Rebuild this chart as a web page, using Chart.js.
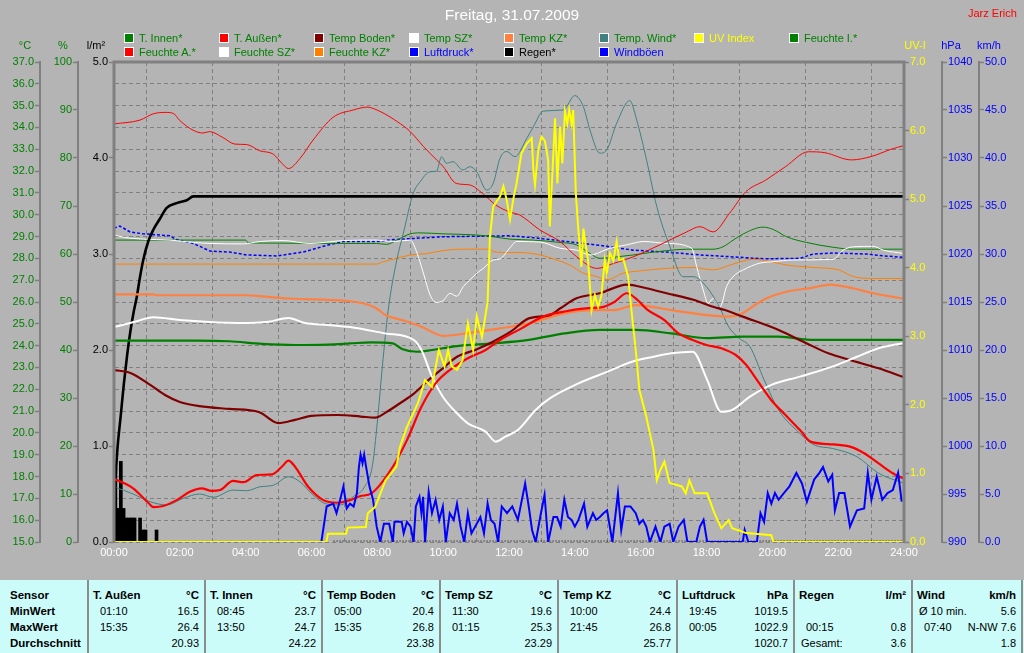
<!DOCTYPE html>
<html lang="de">
<head>
<meta charset="utf-8">
<title>Freitag, 31.07.2009</title>
<script src="https://cdn.jsdelivr.net/npm/chart.js@4.4.1/dist/chart.umd.min.js"></script>
<style>
html,body{margin:0;padding:0;}
body{width:1024px;height:653px;background:#b4b4b4;position:relative;overflow:hidden;font-family:"Liberation Sans",Arial,sans-serif;}
#chartBox{position:absolute;left:0;top:0;width:1024px;height:580px;}
.txt{position:absolute;white-space:nowrap;line-height:1;}
#title{left:0;width:1024px;top:7px;text-align:center;color:#fff;font-size:15.5px;}
#author{left:968px;top:8px;color:#f00;font-size:11px;}
.unit{top:40px;font-size:11px;transform:translateX(-50%);}
.lg{position:absolute;font-size:11px;line-height:12px;white-space:nowrap;}
.lg i{position:absolute;left:0;top:0;width:8px;height:8px;border:1px solid #fff;}
.lg span{position:absolute;left:15px;top:-1px;}
#table{position:absolute;left:0;top:580px;width:1024px;height:73px;background:#ccfcfa;}
.sep{position:absolute;top:0;width:2px;height:73px;background:#8c8c8c;}
.cell{position:absolute;height:16px;line-height:16px;font-size:11px;color:#000;white-space:nowrap;}
.b{font-weight:bold;font-size:11.5px;}
</style>
</head>
<body>
<div id="chartBox"><canvas id="c" width="1024" height="580"></canvas></div>
<div id="title" class="txt">Freitag, 31.07.2009</div>
<div id="author" class="txt">Jarz Erich</div>
<div class="txt unit" style="left:25px;color:#008000">°C</div>
<div class="txt unit" style="left:63px;color:#008000">%</div>
<div class="txt unit" style="left:96px;color:#000">l/m²</div>
<div class="txt unit" style="left:915px;color:#ffff00">UV-I</div>
<div class="txt unit" style="left:951px;color:#0000ff">hPa</div>
<div class="txt unit" style="left:989px;color:#0000ff">km/h</div>
<div id="legend"></div>
<div id="table"></div>
<script>
// ---------- data (time in hours) ----------
const xTickHours = [0,2,4,6,8,10,12,14,16,18,20,22,24];

const tAussenT = [0,0.58,1.04,1.2,1.5,1.9,2.3,2.66,2.97,3.22,3.62,3.93,4.34,4.8,5.1,5.3,5.5,5.9,6.36,6.77,7.17,7.47,7.82,8.47,8.9,9.34,9.77,10.2,10.75,11.29,11.73,12.38,13.03,13.68,14.4,14.8,15.2,15.58,15.9,16.2,16.72,17.15,17.58,18.0,18.45,18.89,19.21,19.53,19.97,20.4,20.84,21.16,21.7,22.36,22.79,23.23,23.66,24];
const tAussen  = [17.9,17.46,16.8,16.6,16.65,16.92,17.3,17.46,17.34,17.38,17.8,17.74,18.07,18.1,18.45,18.73,18.45,17.53,16.92,16.8,16.92,17.1,17.23,18.45,19.67,21.2,22.27,22.88,23.42,23.8,24.26,24.79,25.33,25.56,25.72,25.75,26.0,26.4,26.1,25.65,25.17,24.56,24.26,24.03,23.88,23.57,23.11,22.43,21.5,20.82,20.13,19.6,19.49,19.37,19.07,18.6,18.15,17.9];

const tBodenT = [0,0.5,1.1,1.55,2.0,2.6,3.5,4.4,5.0,5.5,6.0,6.8,7.5,7.93,8.25,8.69,9.11,9.56,9.99,10.42,10.97,11.51,12.05,12.6,13.24,13.55,14.05,14.76,15.58,16.18,16.79,17.6,18.2,18.56,19.1,20.19,21.05,21.7,22.36,23.23,24];
const tBoden  = [22.88,22.75,22.2,21.74,21.42,21.23,21.1,20.96,20.45,20.6,20.78,20.82,20.75,20.7,20.93,21.36,21.8,22.43,22.96,23.49,23.8,24.18,24.64,25.25,25.4,25.7,26.17,26.4,26.8,26.63,26.4,26.1,25.78,25.63,25.33,24.72,24.1,23.65,23.34,22.96,22.55];

const tSZT = [0,0.6,1.2,2.0,2.9,3.8,4.7,5.3,5.8,6.5,7.17,8.25,9.11,9.34,9.66,9.99,10.42,10.75,11.29,11.6,11.89,12.27,12.81,13.24,14.11,14.98,15.74,16.39,16.93,17.58,18.02,18.45,18.78,19.32,19.97,20.84,21.82,22.57,23.23,24];
const tSZ  = [24.85,25.08,25.3,25.17,25.08,25.04,25.1,25.27,25.04,24.95,24.85,24.56,24.26,23.8,22.58,21.66,20.9,20.44,20.06,19.6,19.83,20.13,21.05,21.58,22.27,22.8,23.26,23.49,23.65,23.72,22.43,20.97,21.05,21.66,22.2,22.58,23.04,23.49,23.88,24.12];

const tKZT = [0,1.19,1.3,4.03,4.43,4.94,5.45,6.16,6.97,7.57,7.98,8.25,8.8,9.34,10.0,10.86,11.73,12.6,13.68,14.55,15.2,15.85,16.93,18.02,18.67,19.1,19.32,19.83,20.43,21.24,21.75,22.45,23.07,24];
const tKZ  = [26.35,26.35,26.31,26.31,26.27,26.2,26.15,26.12,26.06,25.94,25.7,25.4,25.15,24.87,24.45,24.6,24.79,25.02,25.48,25.63,25.63,25.86,25.63,25.4,25.33,25.48,25.71,26.17,26.47,26.66,26.8,26.63,26.4,26.15];

const tInnenT = [0,2.5,3.5,4.5,5.5,6.5,7.17,7.8,8.47,8.75,9.2,9.66,10.42,11.51,12.6,13.68,14.76,15.85,16.93,18.02,19.1,20.19,21.27,22.36,24];
const tInnen  = [24.23,24.23,24.2,24.08,24.03,24.05,24.1,24.15,24.1,23.85,23.72,23.8,23.98,24.1,24.26,24.56,24.72,24.72,24.56,24.34,24.41,24.41,24.26,24.26,24.26];

const tWindT = [0,0.58,1.09,1.6,2.1,2.6,3.02,3.62,4.03,4.43,4.84,5.3,5.65,6.05,6.46,6.87,7.27,7.6,7.85,8.0,8.15,8.33,8.59,8.79,9.09,9.3,9.6,9.8,9.95,10.1,10.3,10.6,10.81,11.02,11.32,11.52,11.73,11.93,12.18,12.54,12.74,13.04,13.65,14.0,14.26,14.46,14.76,14.97,15.27,15.67,15.88,16.18,16.49,16.89,17.29,17.6,18.0,18.41,18.67,18.99,19.32,19.75,20.19,20.73,21.27,21.82,22.57,23.23,24];
const tWind  = [17.53,17.2,16.85,16.7,17.0,17.2,17.05,17.38,17.35,17.53,17.6,17.99,17.76,17.15,16.74,16.7,17.08,17.5,18.5,20.5,23.0,25.63,27.92,29.15,30.98,31.51,31.97,32.0,32.66,32.36,32.43,32.05,32.2,31.97,31.13,31.44,32.6,32.9,32.66,33.5,34.03,34.75,34.8,35.46,34.95,33.88,32.82,32.97,34.19,35.23,34.34,32.5,30.37,28.53,27.16,27.16,26.7,25.71,24.87,24.34,23.95,22.43,21.05,20.13,19.45,19.29,18.91,18.15,17.69];

const uvT = [0,6.45,6.5,7.05,7.1,7.65,7.71,7.93,8.25,8.58,8.69,8.9,9.23,9.45,9.66,9.87,10.04,10.15,10.26,10.42,10.59,10.75,10.91,11.02,11.18,11.35,11.42,11.52,11.73,11.83,11.93,12.03,12.13,12.23,12.38,12.54,12.69,12.74,12.79,12.89,12.99,13.09,13.19,13.24,13.33,13.4,13.47,13.55,13.62,13.7,13.77,13.83,13.9,13.95,14.03,14.1,14.2,14.26,14.34,14.4,14.46,14.51,14.61,14.71,14.81,14.91,14.97,15.07,15.17,15.27,15.35,15.47,15.62,15.72,15.85,15.96,16.17,16.39,16.49,16.6,16.72,16.88,17.25,17.37,17.48,17.64,18.02,18.24,18.45,18.67,18.78,19.21,19.97,20.03,24];
const uvIndex = [0,0,0.12,0.12,0.21,0.22,0.42,0.51,0.9,1.1,1.39,1.68,2.02,2.36,2.26,2.8,2.56,2.8,2.56,2.51,2.65,3.19,2.8,3.29,2.99,3.5,4.45,4.89,5.04,5.19,4.99,4.7,5.0,5.23,5.67,5.81,5.89,5.43,5.21,5.72,5.91,5.85,5.57,4.6,5.5,6.18,5.23,6.06,5.52,6.28,6.1,6.3,6.1,6.3,5.09,4.6,4.01,4.57,4.3,4.11,3.72,3.38,3.6,3.43,3.6,4.11,3.92,4.21,4.1,4.38,4.11,4.13,3.87,3.38,2.8,2.22,1.83,1.34,0.9,1.05,1.17,0.86,0.81,0.71,0.9,0.71,0.71,0.42,0.2,0.32,0.2,0.13,0.1,0,0];

const gustT = [
 6.3,6.46,6.66,6.76,6.87,6.97,7.07,7.17,7.28,7.38,
 7.44,7.49,7.55,7.6,7.66,7.76,7.87,7.98,8.09,8.2,
 8.36,8.47,8.52,8.74,8.8,8.9,9.01,9.1,9.17,9.28,
 9.34,9.39,9.45,9.56,9.66,9.77,9.88,9.99,10.08,10.2,
 10.32,10.42,10.53,10.64,10.75,10.86,11.02,11.13,11.24,11.35,
 11.45,11.56,11.67,11.78,11.94,12.1,12.27,12.49,12.6,12.7,
 12.81,12.97,13.08,13.19,13.35,13.46,13.57,13.68,13.79,13.9,
 14.0,14.11,14.28,14.38,14.55,14.65,14.76,14.87,14.98,15.14,
 15.31,15.41,15.52,15.69,15.85,15.96,16.07,16.17,16.28,16.45,
 16.6,16.72,16.88,16.99,17.15,17.31,17.42,17.69,17.8,17.91,
 18.02,19.1,19.16,19.27,19.53,19.64,19.75,19.86,19.97,20.08,
 20.19,20.35,20.52,20.73,20.9,21.05,21.27,21.43,21.54,21.7,
 21.82,21.9,22.03,22.19,22.36,22.57,22.79,22.9,23.01,23.17,
 23.34,23.5,23.66,23.82,23.93];
const windGust = [
 0,3.7,4.0,3.0,4.4,5.8,3.5,4.0,3.7,5.1,
 7.8,9.1,8.2,9.1,7.8,5.8,4.4,1.6,0,1.9,
 1.9,0,2.1,2.1,0.9,2.1,1.6,0,3.7,4.7,
 3.0,4.7,0,5.2,3.0,4.4,2.3,3.7,0,3.0,
 2.3,4.0,1.6,0,3.0,0.9,1.9,2.6,0.9,4.0,
 2.3,1.9,0,3.7,3.0,3.7,2.3,6.1,3.7,1.25,
 0,3.0,4.9,0,2.6,2.6,1.6,4.4,2.6,2.3,
 1.6,2.3,4.0,1.6,3.0,2.3,2.6,3.0,3.3,0,
 5.1,1.25,3.7,3.7,3.0,1.9,2.3,1.6,0,1.6,
 0,1.6,1.9,0,1.6,2.3,0,0,1.6,2.3,
 0,0,1.25,0,0,3.0,2.1,5.1,4.0,5.1,
 4.4,5.1,5.8,7.2,6.1,4.2,6.5,7.2,7.8,6.3,
 7.0,3.3,5.1,5.1,1.6,3.3,3.5,7.2,4.4,6.8,
 4.4,5.1,5.4,7.2,4.2];

const windMeanT = [6.67,24];
const windMean  = [0.1,0.1];

const feuchteAT = [0,0.79,1.19,1.55,1.8,2.0,2.4,2.7,2.9,3.3,3.67,4.03,4.43,4.84,5.1,5.3,5.65,6.05,6.66,7.27,7.68,7.99,8.6,9.0,9.4,9.8,10.0,10.4,10.8,11.2,11.6,12.0,12.33,12.94,13.55,14.06,14.67,15.16,15.77,16.58,17.4,17.8,18.2,18.7,19.2,19.8,20.4,21.1,21.6,22.4,23.0,23.6,24];
const feuchteA  = [87.1,87.9,89.2,89.5,89.3,87.8,85.8,85.2,85.5,84.3,82.9,82.8,81.5,80.8,78.9,77.8,79.9,83.75,88.5,90.0,90.6,90.0,87.6,85.5,82.4,79.6,78.2,74.7,74.4,72.6,70.2,68.8,68.1,65.0,62.6,59.4,57.0,58.0,59.4,61.9,64.6,65.7,64.6,68.5,73.0,75.4,78.2,81.3,81.1,79.6,80.3,81.8,82.6];

const feuchteIT = [0,4.0,4.08,7.98,8.28,8.59,9.0,9.3,10.0,11.02,11.52,12.03,12.74,13.55,14.05,14.46,14.76,15.27,15.77,16.28,16.79,17.4,18.2,18.5,18.81,19.12,19.72,20.03,20.43,21.04,21.85,22.46,24];
const feuchteI  = [62.9,62.9,62.3,62.2,62.0,62.9,64.2,64.4,64.2,63.96,63.6,63.1,62.9,62.4,61.9,60.1,59.1,59.4,59.8,60.3,60.7,61.0,61.0,61.5,62.9,64.2,65.6,65.1,63.6,62.4,61.4,61.0,61.0];

const feuchteSZT = [0,0.28,0.89,1.7,2.41,2.92,3.93,4.43,5.14,5.95,6.97,7.98,8.49,9.0,9.19,9.4,9.6,9.8,10.0,10.21,10.41,10.61,10.81,11.02,11.22,11.52,11.73,12.03,12.23,12.94,13.55,14.05,14.46,15.07,15.57,16.1,16.79,17.55,17.7,17.9,18.05,18.21,18.41,18.61,18.81,19.12,19.62,20.03,20.64,21.85,22.15,22.46,23.07,23.37,24];
const feuchteSZ  = [64.0,63.5,63.1,62.9,62.4,62.2,62.1,62.6,62.8,62.2,62.8,62.9,62.6,62.9,60.5,56.0,51.5,49.9,50.3,51.8,51.2,53.2,54.6,56.0,57.0,58.75,59.0,61.3,62.6,62.5,61.2,60.8,59.8,61.2,61.9,62.6,62.2,61.2,57.4,52.5,49.7,50.8,49.0,53.2,55.3,56.7,58.1,58.4,58.75,58.9,60.8,61.5,61.6,60.8,60.1];

const feuchteKZT = [0,7.98,8.18,8.49,9.0,9.5,10.0,10.51,11.42,11.52,12.03,12.33,12.94,13.45,13.85,14.26,14.67,14.97,15.47,16.0,16.79,17.6,18.2,18.81,19.42,19.83,20.43,21.24,22.01,22.46,23.07,24];
const feuchteKZ  = [57.9,57.9,58.4,58.9,59.8,60.1,60.7,61.0,61.0,60.5,60.3,60.3,59.8,58.75,57.7,56.0,55.3,54.6,56.0,56.5,57.0,57.2,56.7,57.9,58.9,58.6,57.7,57.2,56.7,55.3,54.9,54.9];

const druckT = [0,0.18,0.49,0.89,1.7,1.9,2.41,2.92,3.52,4.03,4.94,5.75,6.46,6.97,7.98,8.49,9.0,10.0,12.03,12.74,13.75,14.76,15.77,16.79,17.8,18.81,19.75,20.84,21.24,21.85,22.86,23.37,24];
const luftdruck = [1022.7,1022.9,1022.3,1022.1,1021.9,1021.5,1021.1,1020.3,1020.2,1019.9,1019.8,1020.2,1020.9,1021.3,1021.3,1021.5,1021.6,1021.8,1021.9,1021.7,1021.3,1020.9,1020.4,1020.2,1019.9,1019.7,1019.5,1019.55,1020.0,1020.1,1020.0,1019.8,1019.65];

const regenSumT = [0,0.03,0.1,0.2,0.3,0.4,0.5,0.6,0.69,0.79,0.89,1.04,1.19,1.4,1.6,1.9,2.21,2.41,24];
const regenSum  = [0,0.5,0.95,1.3,1.65,1.95,2.2,2.4,2.55,2.76,2.94,3.13,3.25,3.37,3.48,3.53,3.56,3.6,3.6];

// rain per 5-minute interval (bin centres)
const regenBarT = [0.042,0.125,0.208,0.292,0.375,0.458,0.542,0.625,0.708,0.792,0.875,0.958,1.042,1.125,1.208,1.292];
const regenBar  = [0.77,0.35,0.84,0.35,0.25,0.25,0.25,0.25,0,0.25,0.125,0.125,0,0,0,0.125];

// ---------- legend & table text ----------
const legendRow1 = ['T. Innen*','T. Außen*','Temp Boden*','Temp SZ*','Temp KZ*','Temp. Wind*','UV Index','Feuchte I.*'];
const legendRow2 = ['Feuchte A.*','Feuchte SZ*','Feuchte KZ*','Luftdruck*','Regen*','Windböen'];
const legendSwatch1 = ['#008000','#ff0000','#800000','#ffffff','#ff8040','#408080','#ffff00','#008000'];
const legendSwatch2 = ['#ff0000','#ffffff','#ff8000','#0000ff','#000000','#0000ff'];
const legendText1 = ['#008000','#008000','#008000','#008000','#008000','#008000','#ffff00','#008000'];
const legendText2 = ['#008000','#008000','#008000','#0000ff','#000000','#0000ff'];

const rowLabels = ['Sensor','MinWert','MaxWert','Durchschnitt'];
const tableHead = ['T. Außen','T. Innen','Temp Boden','Temp SZ','Temp KZ','Luftdruck','Regen','Wind'];
const tableUnit = ['°C','°C','°C','°C','°C','hPa','l/m²','km/h'];
const tableMin = [['01:10','16.5'],['08:45','23.7'],['05:00','20.4'],['11:30','19.6'],['10:00','24.4'],['19:45','1019.5'],['',''],['Ø 10 min.','5.6']];
const tableMax = [['15:35','26.4'],['13:50','24.7'],['15:35','26.8'],['01:15','25.3'],['21:45','26.8'],['00:05','1022.9'],['00:15','0.8'],['07:40','N-NW 7.6']];
const tableAvg = [['','20.93'],['','24.22'],['','23.38'],['','23.29'],['','25.77'],['','1020.7'],['Gesamt:','3.6'],['','1.8']];

// ---------- build legend ----------
(function(){
  const lg = document.getElementById('legend');
  function add(label, sw, tc, col, row){
    const d = document.createElement('div');
    d.className = 'lg';
    d.style.left = (124 + 95*col) + 'px';
    d.style.top = (33 + 14*row) + 'px';
    d.innerHTML = '<i style="background:'+sw+'"></i><span style="color:'+tc+'">'+label+'</span>';
    lg.appendChild(d);
  }
  legendRow1.forEach((l,i)=>add(l, legendSwatch1[i], legendText1[i], i, 0));
  legendRow2.forEach((l,i)=>add(l, legendSwatch2[i], legendText2[i], i, 1));
})();

// ---------- build table ----------
(function(){
  const tb = document.getElementById('table');
  const seps = [88,205,322,440,558,677,794,912,1022];
  const rowTop = [7,23,39,55];
  function cell(text, left, top, bold, right){
    const d = document.createElement('div');
    d.className = 'cell' + (bold ? ' b' : '');
    d.style.top = top + 'px';
    if (right !== undefined) { d.style.right = right + 'px'; } else { d.style.left = left + 'px'; }
    d.textContent = text;
    tb.appendChild(d);
  }
  seps.forEach(x=>{ const s=document.createElement('div'); s.className='sep'; s.style.left=(x-1)+'px'; tb.appendChild(s); });
  rowLabels.forEach((l,i)=>cell(l, 10, rowTop[i], true));
  tableHead.forEach((h,k)=>{
    const L = seps[k], R = seps[k+1];
    cell(h, L+5, rowTop[0], true);
    cell(tableUnit[k], 0, rowTop[0], true, 1024-(R-6));
    [tableMin[k], tableMax[k], tableAvg[k]].forEach((pair, r)=>{
      const lt = pair[0];
      if (lt) cell(lt, L + (/[A-Za-zØ]/.test(lt) ? 7 : 12), rowTop[r+1], false);
      if (pair[1]) cell(pair[1], 0, rowTop[r+1], false, 1024-(R-6));
    });
  });
})();

// ---------- chart ----------
const GRID = '#808080';
const FONT = {family:'Liberation Sans', size:11};
function pts(t, v){ const n = Math.min(t.length, v.length); const a = []; for (let i=0;i<n;i++) a.push({x:t[i], y:v[i]}); return a; }
function ln(label, t, v, axis, color, width, extra){
  return Object.assign({type:'line', label, data:pts(t,v), yAxisID:axis, borderColor:color, backgroundColor:color,
    borderWidth:width, pointRadius:0, pointHoverRadius:0, fill:false, tension:0}, extra || {});
}
const smooth = {cubicInterpolationMode:'monotone'};

function yAxis(width, pos, weight, min, max, step, color, dec){
  return {
    type:'linear', position:pos, weight:weight, min:min, max:max,
    afterFit: s => { s.width = width; },
    ticks:{stepSize:step, autoSkip:false, maxTicksLimit:100, color:color, font:FONT, padding:1,
      callback: v => dec ? Number(v).toFixed(dec) : String(Math.round(v))},
    grid:{display:true, drawOnChartArea:false, drawTicks:true, tickLength:5, tickColor:GRID, tickWidth:1.5, color:GRID},
    border:{display:true, color:GRID, width:2}
  };
}
const yC = yAxis(40,'left',3,15,37,1,'#008000',1);
yC.grid = {display:true, drawOnChartArea:true, drawTicks:true, tickLength:5, tickColor:GRID, tickWidth:1.5, color:GRID, lineWidth:1};
yC.border = {display:true, color:GRID, width:2, dash:[4,3]};
const yP = yAxis(38,'left',2,0,100,10,'#008000',0);
const yRain = yAxis(36,'left',1,0,5,1,'#000000',1);
yRain.border = {display:false};
const yUV = yAxis(38,'right',1,0,7,1,'#ffff00',1);
yUV.border = {display:false};
const yHPa = yAxis(37,'right',2,990,1040,5,'#0000ff',0);
const yKmh = yAxis(45,'right',3,0,50,5,'#0000ff',1);

const framePlugin = {
  id:'frame',
  afterDatasetsDraw(chart){
    const {ctx, chartArea:a} = chart;
    ctx.save();
    ctx.strokeStyle = GRID; ctx.lineWidth = 3;
    ctx.beginPath();
    ctx.moveTo(a.left, a.bottom + 1); ctx.lineTo(a.left, a.top);
    ctx.lineTo(a.right, a.top); ctx.lineTo(a.right, a.bottom + 1);
    ctx.stroke();
    ctx.restore();
  }
};

new Chart(document.getElementById('c'), {
  type:'line',
  data:{
    datasets:[
      ln('UV Index', uvT, uvIndex, 'yUV', '#ffff00', 2),
      ln('Windböen', gustT, windGust, 'yKmh', '#0000ff', 2),
      ln('T. Außen', tAussenT, tAussen, 'yC', '#ff0000', 2.2, smooth),
      ln('Temp SZ', tSZT, tSZ, 'yC', '#ffffff', 2, smooth),
      ln('Temp Boden', tBodenT, tBoden, 'yC', '#800000', 2.2, smooth),
      ln('T. Innen', tInnenT, tInnen, 'yC', '#008000', 2.2, smooth),
      ln('Temp KZ', tKZT, tKZ, 'yC', '#ff8040', 2.2, smooth),
      ln('Regen', regenSumT, regenSum, 'yRain', '#000000', 2.6, smooth),
      ln('Temp. Wind', tWindT, tWind, 'yC', '#408080', 1, smooth),
      ln('Feuchte A.', feuchteAT, feuchteA, 'yP', '#ff0000', 1, smooth),
      ln('Feuchte SZ', feuchteSZT, feuchteSZ, 'yP', '#ffffff', 1, smooth),
      ln('Feuchte I.', feuchteIT, feuchteI, 'yP', '#008000', 1, smooth),
      ln('Feuchte KZ', feuchteKZT, feuchteKZ, 'yP', '#ff8000', 1, smooth),
      ln('Luftdruck', druckT, luftdruck, 'yHPa', '#0000ff', 1.5, {borderDash:[3,2]}),
      ln('Wind', windMeanT, windMean, 'yKmh', '#000000', 1, {borderDash:[1,2]}),
      {type:'bar', label:'Regen/5min', data:pts(regenBarT, regenBar), yAxisID:'yRain', backgroundColor:'#000000',
        borderWidth:0, barThickness:3, grouped:false}
    ]
  },
  options:{
    responsive:false, animation:false, devicePixelRatio:1,
    layout:{padding:{top:62, left:0, right:0, bottom:0}},
    plugins:{legend:{display:false}, tooltip:{enabled:false}, title:{display:false}},
    events:[],
    scales:{
      x:{type:'linear', min:0, max:24, offset:false,
        afterFit: s => { s.height = 38; },
        afterBuildTicks: s => { s.ticks = xTickHours.map(v => ({value:v})); },
        ticks:{autoSkip:false, maxRotation:0, minRotation:0, color:'#ffffff', font:FONT, padding:4,
          callback: v => (v < 10 ? '0' : '') + v + ':00'},
        grid:{display:true, drawTicks:false, drawOnChartArea:true, color:GRID, lineWidth:1},
        border:{display:false, dash:[4,3]}
      },
      yC:yC, yP:yP, yRain:yRain, yUV:yUV, yHPa:yHPa, yKmh:yKmh
    }
  },
  plugins:[framePlugin]
});
</script>
</body>
</html>
